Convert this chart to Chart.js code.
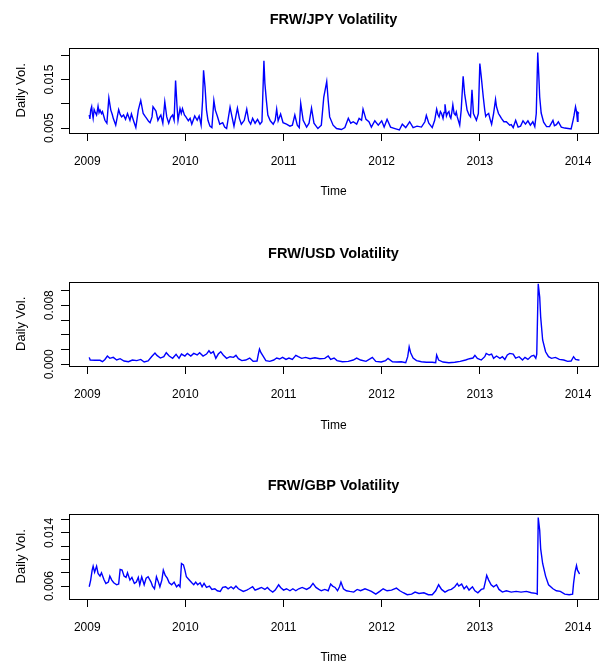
<!DOCTYPE html>
<html>
<head>
<meta charset="utf-8">
<script src="https://cdn.jsdelivr.net/npm/chart.js@4.4.1/dist/chart.umd.min.js"></script>
<style>
  html, body { margin: 0; padding: 0; background: #fff; overflow: hidden; }
  canvas { position: absolute; left: 0; }
</style>
</head>
<body>
<canvas id="graficoJpy" width="602" height="233" style="top:0px"></canvas>
<canvas id="graficoUsd" width="602" height="233" style="top:234px"></canvas>
<canvas id="graficoGbp" width="602" height="233" style="top:466px"></canvas>
<script>
// anos do eixo x
const anos = [2009, 2010, 2011, 2012, 2013, 2014];

// volatilidade diaria [ano, valor]
const jpy = [
  [2009.02,0.0077],[2009.027,0.0069],[2009.035,0.0087],[2009.045,0.0094],[2009.052,0.0080],[2009.06,0.0070],[2009.07,0.0088],[2009.08,0.0083],[2009.095,0.0077],[2009.103,0.0086],[2009.11,0.0095],[2009.12,0.0082],[2009.13,0.0087],[2009.145,0.0080],[2009.155,0.0084],[2009.165,0.0077],
  [2009.18,0.0066],[2009.20,0.0060],[2009.22,0.0112],[2009.24,0.0087],[2009.255,0.0078],[2009.265,0.0070],[2009.29,0.0056],[2009.305,0.0072],[2009.32,0.0088],[2009.335,0.0078],[2009.35,0.0073],[2009.37,0.0077],[2009.39,0.0068],[2009.41,0.0080],
  [2009.435,0.0066],[2009.45,0.0079],[2009.475,0.0063],[2009.495,0.0051],[2009.52,0.0087],[2009.545,0.0107],[2009.57,0.0080],[2009.59,0.0074],[2009.605,0.0070],[2009.625,0.0064],[2009.64,0.0061],[2009.66,0.0073],
  [2009.67,0.0094],[2009.70,0.0085],[2009.72,0.0066],[2009.735,0.0072],[2009.75,0.0077],[2009.77,0.0060],[2009.79,0.0104],[2009.81,0.0073],[2009.83,0.0060],[2009.85,0.0072],[2009.87,0.0077],
  [2009.885,0.0066],[2009.90,0.0148],[2009.915,0.0094],[2009.925,0.0066],[2009.945,0.0090],[2009.958,0.0080],[2009.97,0.0090],[2009.99,0.0077],[2010.005,0.0073],[2010.03,0.0065],[2010.048,0.0070],[2010.065,0.0058],
  [2010.095,0.0075],[2010.12,0.0066],[2010.14,0.0075],[2010.16,0.0056],[2010.175,0.0107],[2010.185,0.0169],[2010.20,0.0135],[2010.215,0.0087],[2010.23,0.0066],[2010.25,0.0054],
  [2010.27,0.0051],[2010.29,0.0107],[2010.305,0.0087],[2010.325,0.0075],[2010.35,0.0058],[2010.38,0.0061],[2010.40,0.0052],[2010.42,0.0049],[2010.455,0.0093],[2010.475,0.0073],
  [2010.495,0.0054],[2010.53,0.0091],[2010.55,0.0070],[2010.57,0.0058],[2010.60,0.0066],[2010.625,0.0089],[2010.645,0.0065],[2010.665,0.0058],[2010.685,0.0070],[2010.71,0.0060],
  [2010.735,0.0068],[2010.76,0.0058],[2010.78,0.0063],[2010.80,0.0189],[2010.81,0.0142],[2010.825,0.0107],[2010.84,0.0077],[2010.865,0.0065],[2010.895,0.0058],[2010.915,0.0066],
  [2010.93,0.0089],[2010.945,0.0065],[2010.97,0.0079],[2010.995,0.0061],[2011.03,0.0058],[2011.065,0.0054],[2011.09,0.0056],[2011.115,0.0077],[2011.14,0.0056],[2011.16,0.0051],
  [2011.175,0.0101],[2011.20,0.0066],[2011.235,0.0052],[2011.26,0.0060],[2011.285,0.0091],[2011.31,0.0060],[2011.35,0.0049],[2011.385,0.0056],[2011.41,0.0114],[2011.44,0.0146],
  [2011.455,0.0107],[2011.47,0.0073],[2011.505,0.0056],[2011.54,0.0049],[2011.59,0.0047],[2011.625,0.0051],[2011.66,0.0070],[2011.685,0.0060],[2011.71,0.0063],[2011.745,0.0058],
  [2011.77,0.0070],[2011.795,0.0066],[2011.81,0.0089],[2011.84,0.0068],[2011.87,0.0063],[2011.895,0.0052],[2011.93,0.0065],[2011.965,0.0056],[2012.00,0.0065],[2012.025,0.0052],
  [2012.055,0.0068],[2012.09,0.0052],[2012.135,0.0049],[2012.18,0.0046],[2012.21,0.0058],[2012.245,0.0051],[2012.285,0.0063],[2012.32,0.0051],[2012.36,0.0054],[2012.405,0.0052],
  [2012.44,0.0063],[2012.455,0.0076],[2012.48,0.0060],[2012.515,0.0051],[2012.54,0.0066],[2012.56,0.0089],[2012.573,0.0078],[2012.585,0.0073],[2012.598,0.0084],[2012.61,0.0080],[2012.625,0.0070],[2012.635,0.0082],[2012.645,0.0099],
  [2012.66,0.0075],[2012.672,0.0081],[2012.685,0.0084],[2012.695,0.0074],[2012.705,0.0070],[2012.715,0.0083],[2012.725,0.0098],[2012.738,0.0080],[2012.75,0.0077],[2012.76,0.0083],[2012.77,0.0073],[2012.795,0.0056],[2012.81,0.0087],[2012.83,0.0157],[2012.845,0.0121],
  [2012.87,0.0087],[2012.89,0.0077],[2012.905,0.0073],[2012.92,0.0129],[2012.935,0.0080],[2012.965,0.0066],[2012.985,0.0080],[2013.00,0.0183],[2013.015,0.0155],[2013.035,0.0114],
  [2013.05,0.0087],[2013.06,0.0074],[2013.07,0.0077],[2013.09,0.0080],[2013.105,0.0068],[2013.12,0.0058],[2013.14,0.0080],[2013.16,0.0109],[2013.17,0.0094],[2013.19,0.0080],[2013.205,0.0075],[2013.22,0.0070],[2013.245,0.0063],
  [2013.27,0.0063],[2013.305,0.0056],[2013.32,0.0057],[2013.34,0.0051],[2013.365,0.0066],[2013.39,0.0052],[2013.415,0.0054],[2013.44,0.0065],[2013.465,0.0058],[2013.49,0.0065],
  [2013.515,0.0056],[2013.54,0.0063],[2013.56,0.0053],[2013.575,0.0080],[2013.59,0.0206],[2013.60,0.0162],[2013.61,0.0114],[2013.625,0.0081],[2013.65,0.0062],[2013.68,0.0053],
  [2013.71,0.0053],[2013.745,0.0066],[2013.76,0.0055],[2013.78,0.0057],[2013.80,0.0063],[2013.83,0.0052],[2013.865,0.0050],[2013.90,0.0049],[2013.93,0.0048],[2013.95,0.0066],
  [2013.96,0.0076],[2013.975,0.0094],[2013.985,0.0084],[2013.995,0.0064],[2014.00,0.0082],[2014.01,0.0080]
];

const usd = [
  [2009.02,0.00094],[2009.03,0.00058],[2009.08,0.00054],[2009.13,0.00054],[2009.155,0.00035],[2009.18,0.00066],[2009.205,0.00112],[2009.23,0.00081],[2009.265,0.00094],[2009.30,0.00058],
  [2009.335,0.00076],[2009.375,0.00045],[2009.42,0.00035],[2009.46,0.00058],[2009.505,0.0005],[2009.545,0.00066],[2009.58,0.00031],[2009.62,0.00045],[2009.655,0.00103],[2009.69,0.00152],
  [2009.71,0.00121],[2009.745,0.00085],[2009.78,0.00103],[2009.805,0.00157],[2009.835,0.00112],[2009.87,0.00081],[2009.905,0.00135],[2009.935,0.00081],[2009.96,0.00139],[2009.995,0.00112],
  [2010.02,0.00148],[2010.055,0.00112],[2010.085,0.00148],[2010.12,0.00126],[2010.145,0.00157],[2010.18,0.00112],[2010.215,0.00139],[2010.24,0.00184],[2010.26,0.00148],[2010.285,0.00171],
  [2010.31,0.00081],[2010.335,0.00139],[2010.36,0.00171],[2010.385,0.00126],[2010.42,0.00081],[2010.455,0.00103],[2010.49,0.00094],[2010.515,0.00121],[2010.54,0.00076],[2010.575,0.0005],
  [2010.615,0.00058],[2010.655,0.00085],[2010.69,0.0004],[2010.73,0.00045],[2010.745,0.00148],[2010.755,0.00206],[2010.77,0.00157],[2010.795,0.00103],[2010.82,0.0005],[2010.86,0.0004],
  [2010.90,0.00058],[2010.93,0.00085],[2010.96,0.00072],[2010.99,0.00094],[2011.025,0.00066],[2011.055,0.00085],[2011.09,0.00066],[2011.125,0.00121],[2011.15,0.00103],[2011.185,0.00081],
  [2011.225,0.00094],[2011.27,0.00076],[2011.32,0.00089],[2011.37,0.00076],[2011.42,0.00081],[2011.455,0.00112],[2011.48,0.00066],[2011.515,0.00085],[2011.545,0.0005],[2011.60,0.00035],
  [2011.66,0.0004],[2011.71,0.00058],[2011.745,0.00085],[2011.785,0.00058],[2011.84,0.0004],[2011.885,0.00076],[2011.905,0.00094],[2011.94,0.0004],[2011.995,0.00031],[2012.04,0.0005],
  [2012.065,0.00081],[2012.11,0.00035],[2012.155,0.00031],[2012.20,0.00035],[2012.245,0.00022],[2012.265,0.00103],[2012.28,0.00237],[2012.295,0.00157],[2012.32,0.00085],[2012.355,0.0005],
  [2012.405,0.00035],[2012.455,0.00027],[2012.515,0.00027],[2012.55,0.00022],[2012.56,0.00126],[2012.58,0.00058],[2012.625,0.00031],[2012.685,0.00022],[2012.745,0.00027],[2012.80,0.0004],
  [2012.855,0.00058],[2012.895,0.00076],[2012.93,0.00085],[2012.95,0.00121],[2012.975,0.00081],[2013.015,0.00058],[2013.05,0.00103],[2013.065,0.00148],[2013.095,0.00126],[2013.12,0.00139],
  [2013.14,0.00081],[2013.17,0.00112],[2013.205,0.00081],[2013.23,0.00103],[2013.255,0.00066],[2013.28,0.00126],[2013.305,0.00148],[2013.34,0.00139],[2013.365,0.00085],[2013.40,0.00103],
  [2013.435,0.00058],[2013.46,0.00094],[2013.49,0.00066],[2013.525,0.00112],[2013.55,0.00121],[2013.57,0.00081],[2013.58,0.00139],[2013.595,0.0109],[2013.61,0.0091],[2013.62,0.0064],
  [2013.64,0.0033],[2013.67,0.0017],[2013.70,0.00103],[2013.73,0.00081],[2013.77,0.00094],[2013.81,0.00066],[2013.855,0.00058],[2013.895,0.0004],[2013.93,0.00045],[2013.955,0.00103],
  [2013.975,0.00066],[2014.005,0.00058],[2014.015,0.00058]
];

const gbp = [
  [2009.02,0.0059],[2009.035,0.0069],[2009.05,0.0084],[2009.06,0.0090],[2009.075,0.0081],[2009.095,0.0090],[2009.11,0.0079],[2009.13,0.0075],[2009.145,0.0080],[2009.17,0.0070],
  [2009.19,0.0064],[2009.215,0.0066],[2009.23,0.0075],[2009.25,0.0069],[2009.27,0.0065],[2009.30,0.0062],[2009.32,0.0063],[2009.335,0.0085],[2009.355,0.0084],[2009.375,0.0075],
  [2009.395,0.0073],[2009.41,0.0080],[2009.435,0.0069],[2009.455,0.0073],[2009.48,0.0064],[2009.50,0.0066],[2009.52,0.0073],[2009.535,0.0062],[2009.555,0.0074],[2009.58,0.0062],
  [2009.60,0.0072],[2009.62,0.0074],[2009.65,0.0066],[2009.665,0.0060],[2009.685,0.0056],[2009.705,0.0074],[2009.725,0.0066],[2009.74,0.0059],[2009.76,0.0069],[2009.775,0.0084],
  [2009.795,0.0076],[2009.815,0.0072],[2009.835,0.0065],[2009.86,0.0062],[2009.885,0.0066],[2009.91,0.0059],[2009.93,0.0062],[2009.945,0.0059],[2009.96,0.0094],[2009.98,0.0092],
  [2009.995,0.0084],[2010.01,0.0074],[2010.035,0.0070],[2010.065,0.0065],[2010.085,0.0062],[2010.105,0.0066],[2010.125,0.0062],[2010.15,0.0065],[2010.17,0.0059],[2010.19,0.0064],
  [2010.215,0.0058],[2010.245,0.0060],[2010.27,0.0055],[2010.30,0.0056],[2010.325,0.0053],[2010.355,0.0052],[2010.38,0.0058],[2010.41,0.0059],[2010.435,0.0056],[2010.465,0.0059],
  [2010.49,0.0056],[2010.515,0.0060],[2010.54,0.0056],[2010.565,0.0054],[2010.59,0.0052],[2010.625,0.0054],[2010.65,0.0056],[2010.685,0.0059],[2010.71,0.0054],[2010.745,0.0056],
  [2010.775,0.0058],[2010.81,0.0055],[2010.835,0.0058],[2010.86,0.0054],[2010.89,0.0051],[2010.915,0.0054],[2010.95,0.0062],[2010.97,0.0058],[2011.00,0.0054],[2011.03,0.0056],
  [2011.065,0.0053],[2011.095,0.0056],[2011.125,0.0053],[2011.155,0.0056],[2011.19,0.0058],[2011.235,0.0055],[2011.27,0.0058],[2011.30,0.0064],[2011.33,0.0058],[2011.36,0.0055],
  [2011.385,0.0053],[2011.42,0.0055],[2011.455,0.0053],[2011.48,0.0063],[2011.50,0.0060],[2011.525,0.0058],[2011.55,0.0053],[2011.57,0.0059],[2011.585,0.0066],[2011.61,0.0056],
  [2011.64,0.0053],[2011.675,0.0052],[2011.715,0.0051],[2011.75,0.0055],[2011.785,0.0053],[2011.83,0.0056],[2011.865,0.0054],[2011.895,0.0052],[2011.94,0.0048],[2011.98,0.0052],
  [2012.015,0.0056],[2012.055,0.0053],[2012.10,0.0054],[2012.15,0.0057],[2012.185,0.0053],[2012.22,0.0050],[2012.26,0.0047],[2012.305,0.0048],[2012.34,0.0051],[2012.38,0.0049],
  [2012.43,0.0050],[2012.475,0.0047],[2012.515,0.0047],[2012.55,0.0053],[2012.58,0.0062],[2012.61,0.0055],[2012.645,0.0051],[2012.68,0.0054],[2012.71,0.0055],[2012.745,0.0059],
  [2012.77,0.0064],[2012.785,0.0060],[2012.815,0.0063],[2012.84,0.0056],[2012.865,0.0060],[2012.89,0.0054],[2012.925,0.0059],[2012.95,0.0053],[2012.98,0.0050],[2013.015,0.0055],
  [2013.04,0.0056],[2013.06,0.0069],[2013.07,0.0076],[2013.09,0.0069],[2013.115,0.0062],[2013.14,0.0059],[2013.17,0.0062],[2013.195,0.0055],[2013.23,0.0051],[2013.27,0.0053],
  [2013.32,0.0051],[2013.37,0.0052],[2013.42,0.0051],[2013.475,0.0052],[2013.525,0.0050],[2013.57,0.0049],[2013.585,0.0048],[2013.595,0.0163],[2013.61,0.0144],[2013.62,0.0116],
  [2013.64,0.0094],[2013.67,0.0075],[2013.70,0.0062],[2013.745,0.0056],[2013.78,0.0053],[2013.82,0.0052],[2013.865,0.0048],[2013.91,0.0047],[2013.945,0.0048],[2013.955,0.0064],
  [2013.97,0.0081],[2013.985,0.0091],[2013.995,0.0084],[2014.01,0.0080],[2014.015,0.0078]
];

// marcas e rotulos do eixo y de cada painel
const ticksJpy = [0.005, 0.010, 0.015, 0.020];
const rotulosJpy = ['0.005', '', '0.015', ''];
const ticksUsd = [0.000, 0.002, 0.004, 0.006, 0.008, 0.010];
const rotulosUsd = ['0.000', '', '', '', '0.008', ''];
const ticksGbp = [0.006, 0.008, 0.010, 0.012, 0.014, 0.016];
const rotulosGbp = ['0.006', '', '', '', '0.014', ''];

Chart.defaults.font.family = '"Liberation Sans", Arial, Helvetica, sans-serif';
Chart.defaults.color = '#000';

// desenha a caixa em volta da area do grafico
const moldura = {
  id: 'moldura',
  afterDraw(chart) {
    const { ctx, chartArea: a } = chart;
    ctx.save();
    ctx.strokeStyle = '#000';
    ctx.lineWidth = 1;
    ctx.strokeRect(Math.round(a.left) + 0.5, Math.round(a.top) + 0.5,
      Math.round(a.right - a.left), Math.round(a.bottom - a.top));
    ctx.restore();
  }
};

function criaPainel(id, titulo, serie, yMin, yMax, yTicks, yRotulos, alturaX) {
  return new Chart(document.getElementById(id), {
    type: 'line',
    data: {
      datasets: [{
        data: serie.map(([t, v]) => ({ x: t, y: v })),
        borderColor: '#0000ff',
        borderWidth: 1.4,
        pointRadius: 0,
        tension: 0,
        fill: false
      }]
    },
    options: {
      responsive: false,
      animation: false,
      events: [],
      layout: { padding: { top: 0, right: 4, bottom: 0, left: 0 } },
      plugins: {
        legend: { display: false },
        tooltip: { enabled: false },
        title: {
          display: true,
          text: titulo,
          fullSize: false,
          font: { size: 14.5, weight: 'bold' },
          color: '#000',
          padding: { top: 11.4, bottom: 18.8 }
        }
      },
      scales: {
        x: {
          type: 'linear',
          bounds: 'data',
          min: 2008.814,
          max: 2014.204,
          afterBuildTicks: s => { s.ticks = anos.map(v => ({ value: v })); },
          afterFit: s => { s.height = alturaX; s.paddingLeft = 0; s.paddingRight = 0; },
          border: { display: false },
          grid: { drawOnChartArea: false, drawTicks: true, tickLength: 8, color: '#000' },
          ticks: { autoSkip: false, maxRotation: 0, padding: 13, font: { size: 12 }, callback: v => String(v) },
          title: { display: true, text: 'Time', font: { size: 12 }, padding: { top: 0, bottom: 34 } }
        },
        y: {
          type: 'linear',
          bounds: 'data',
          min: yMin,
          max: yMax,
          afterBuildTicks: s => { s.ticks = yTicks.map(v => ({ value: v })); },
          afterFit: s => { s.width = 69; },
          border: { display: false },
          grid: { drawOnChartArea: false, drawTicks: true, tickLength: 8, color: '#000' },
          ticks: {
            autoSkip: false, minRotation: 90, maxRotation: 90, crossAlign: 'center',
            padding: -4, font: { size: 12 }, callback: (v, i) => yRotulos[i]
          },
          title: { display: true, text: 'Daily Vol.', font: { size: 13 }, padding: { top: 13.2, bottom: 0 } }
        }
      }
    },
    plugins: [moldura]
  });
}

criaPainel('graficoJpy', 'FRW/JPY Volatility', jpy, 0.00398, 0.0216, ticksJpy, rotulosJpy, 100);
criaPainel('graficoUsd', 'FRW/USD Volatility', usd, -0.00023, 0.01121, ticksUsd, rotulosUsd, 101);
criaPainel('graficoGbp', 'FRW/GBP Volatility', gbp, 0.00406, 0.0169, ticksGbp, rotulosGbp, 100);
</script>
</body>
</html>
